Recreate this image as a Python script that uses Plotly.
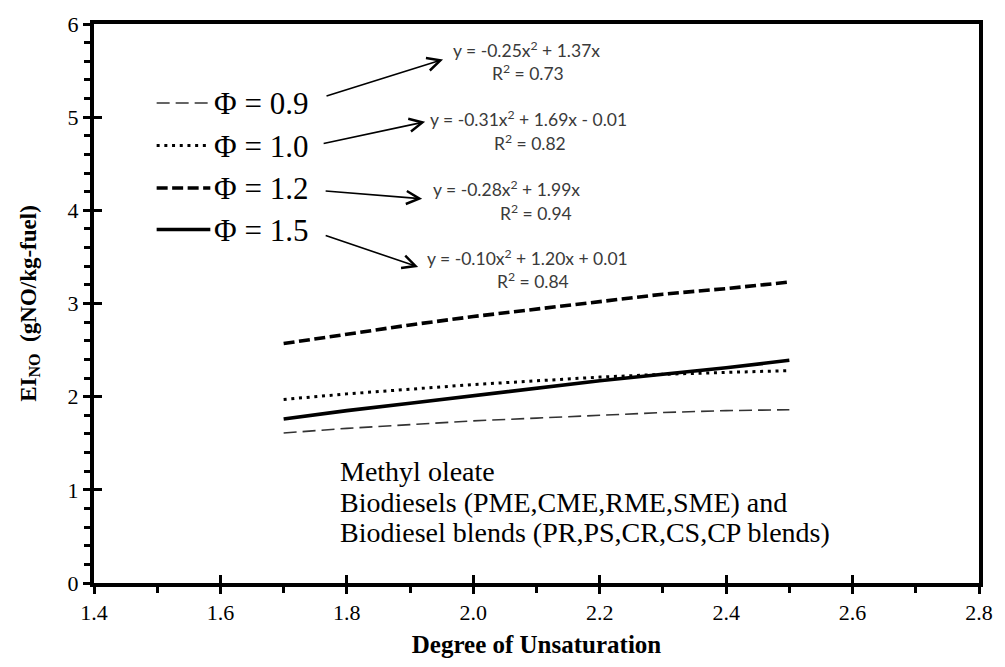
import plotly.graph_objects as go

# Degree of unsaturation sampled along each trend line
dou = [1.7, 1.8, 1.9, 2.0, 2.1, 2.2, 2.3, 2.4, 2.5]

# EI_NO (gNO/kg-fuel) for each equivalence ratio
ei_phi_09 = [1.61, 1.66, 1.70, 1.74, 1.77, 1.80, 1.83, 1.85, 1.86]
ei_phi_10 = [1.97, 2.03, 2.08, 2.13, 2.17, 2.21, 2.24, 2.26, 2.28]
ei_phi_12 = [2.57, 2.67, 2.77, 2.86, 2.94, 3.02, 3.10, 3.16, 3.23]
ei_phi_15 = [1.76, 1.85, 1.93, 2.01, 2.09, 2.17, 2.24, 2.31, 2.39]

phi_labels = ["\u03a6 = 0.9", "\u03a6 = 1.0", "\u03a6 = 1.2", "\u03a6 = 1.5"]
fit_equations = [
    "y = -0.25x<sup>2</sup> + 1.37x",
    "y = -0.31x<sup>2</sup> + 1.69x - 0.01",
    "y = -0.28x<sup>2</sup> + 1.99x",
    "y = -0.10x<sup>2</sup> + 1.20x + 0.01",
]
fit_r2 = ["R<sup>2</sup> = 0.73", "R<sup>2</sup> = 0.82", "R<sup>2</sup> = 0.94", "R<sup>2</sup> = 0.84"]
note_lines = [
    "Methyl oleate",
    "Biodiesels (PME,CME,RME,SME) and",
    "Biodiesel blends (PR,PS,CR,CS,CP blends)",
]

x_ticks = [1.4, 1.6, 1.8, 2.0, 2.2, 2.4, 2.6, 2.8]
x_tick_text = ["1.4", "1.6", "1.8", "2.0", "2.2", "2.4", "2.6", "2.8"]
y_ticks = [0, 1, 2, 3, 4, 5, 6]

W, H = 1005, 667
ML, MR, MT, MB = 94, 21, 17, 84
PW, PH = W - ML - MR, H - MT - MB

def px(xp):
    return (xp - ML) / PW

def py(yp):
    return (H - MB - yp) / PH

SERIF = "Liberation Serif"
SANS = "Lato"

styles = [
    dict(color="#333333", width=1.6, dash="13px,6px"),
    dict(color="black", width=3, dash="3px,4.7px"),
    dict(color="black", width=3.6, dash="11px,4.5px"),
    dict(color="black", width=3.6, dash="solid"),
]
series = [ei_phi_09, ei_phi_10, ei_phi_12, ei_phi_15]

fig = go.Figure()
for lbl, ys, st in zip(phi_labels, series, styles):
    fig.add_trace(go.Scatter(x=dou, y=ys, mode="lines", name=lbl, line=st,
                             showlegend=False, hoverinfo="skip"))

# invisible trace to carry the inner half of the major ticks
fig.add_trace(go.Scatter(x=[dou[0]], y=[ei_phi_09[0]], mode="markers", opacity=0,
                         xaxis="x2", yaxis="y2", showlegend=False, hoverinfo="skip"))

axis_font = dict(family=SERIF, size=22, color="black")

fig.update_layout(
    width=W, height=H,
    margin=dict(l=ML, r=MR, t=MT, b=MB),
    paper_bgcolor="white", plot_bgcolor="white",
    xaxis=dict(
        range=[1.4, 2.8], tickvals=x_ticks, ticktext=x_tick_text,
        ticks="outside", ticklen=7, tickwidth=3, tickcolor="black",
        minor=dict(dtick=0.1, ticks="outside", ticklen=6, tickwidth=3, tickcolor="black"),
        showline=True, linewidth=4, linecolor="black", mirror=True,
        showgrid=False, zeroline=False, tickfont=axis_font,
        title=dict(text="<b>Degree of Unsaturation</b>",
                   font=dict(family=SERIF, size=25, color="black"), standoff=12),
    ),
    yaxis=dict(
        range=[0, 6], tickvals=y_ticks,
        ticks="outside", ticklen=7, tickwidth=3, tickcolor="black",
        minor=dict(dtick=0.2, ticks="outside", ticklen=6, tickwidth=3, tickcolor="black"),
        showline=True, linewidth=4, linecolor="black", mirror=True,
        showgrid=False, zeroline=False, tickfont=axis_font,
        title=dict(text="<b>EI<sub>NO</sub>  (gNO/kg-fuel)</b>",
                   font=dict(family=SERIF, size=23, color="black"), standoff=26),
    ),
    xaxis2=dict(overlaying="x", matches="x", side="bottom", tickvals=x_ticks,
                ticks="inside", ticklen=8, tickwidth=3, tickcolor="black",
                showticklabels=False, showline=False, showgrid=False, zeroline=False),
    yaxis2=dict(overlaying="y", matches="y", side="left", tickvals=y_ticks,
                ticks="inside", ticklen=8, tickwidth=3, tickcolor="black",
                showticklabels=False, showline=False, showgrid=False, zeroline=False),
)

# hand-drawn legend: line samples and labels
legend_rows = [97, 140, 183, 225]
for row, lbl, st in zip(legend_rows, phi_labels, styles):
    fig.add_shape(type="line", xref="paper", yref="paper",
                  x0=px(157), x1=px(211), y0=py(row), y1=py(row),
                  line=st)
    fig.add_annotation(xref="paper", yref="paper", x=px(213), y=py(row + 1),
                       xanchor="left", yanchor="middle", showarrow=False,
                       text=lbl, font=dict(family=SERIF, size=31, color="black"))

# arrows from the legend labels to the fitted equations
arrows = [
    ((327, 90), (445, 53)),
    ((324, 138), (427, 116)),
    ((326, 186), (424, 194)),
    ((326, 231), (420, 263)),
]
for (tx, ty), (hx, hy) in arrows:
    fig.add_annotation(xref="paper", yref="paper", x=px(hx), y=py(hy),
                       ax=tx - hx, ay=ty - hy, text="", showarrow=True,
                       arrowhead=5, arrowsize=1.6, arrowwidth=1.6, arrowcolor="black")

eq_font = dict(family=SANS, size=17.5, color="#3a3a3a")
eq_pos = [(529, 43), (531, 113), (509, 184), (530, 253)]
r2_pos = [(530, 66), (532, 137), (538, 208), (535, 277)]
for eq, r2, (ex, ey), (rx, ry) in zip(fit_equations, fit_r2, eq_pos, r2_pos):
    fig.add_annotation(xref="paper", yref="paper", x=px(ex), y=py(ey),
                       xanchor="center", yanchor="middle", showarrow=False,
                       text=eq, font=eq_font)
    fig.add_annotation(xref="paper", yref="paper", x=px(rx), y=py(ry),
                       xanchor="center", yanchor="middle", showarrow=False,
                       text=r2, font=eq_font)

# fuel description block, three left-aligned lines
note_rows = [470, 501, 532]
for row, line in zip(note_rows, note_lines):
    fig.add_annotation(xref="paper", yref="paper", x=px(340), y=py(row),
                       xanchor="left", yanchor="middle", showarrow=False, borderpad=0,
                       text=line, font=dict(family=SERIF, size=28, color="black"))

fig.write_html("out.html")
